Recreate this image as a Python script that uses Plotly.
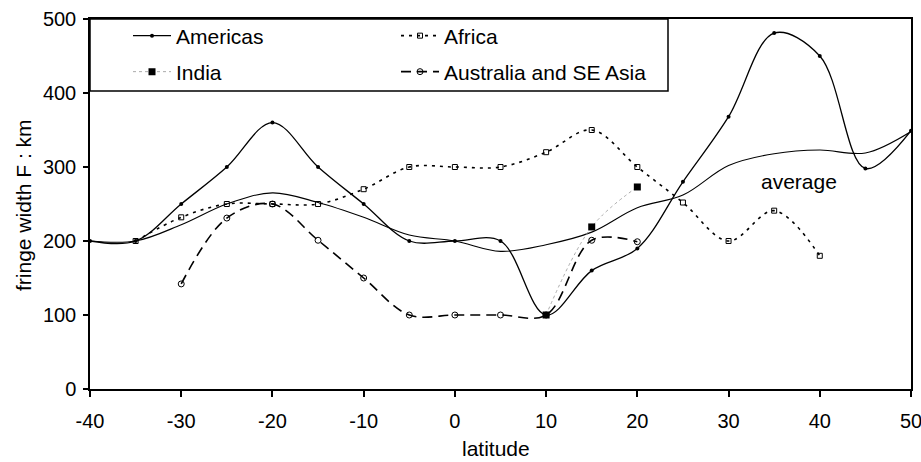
import plotly.graph_objects as go

# ---- data ----
lat_americas = [-40, -35, -30, -25, -20, -15, -10, -5, 0, 5, 10, 15, 20, 25, 30, 35, 40, 45, 50]
americas = [200, 200, 250, 300, 360, 300, 250, 200, 200, 200, 100, 160, 190, 280, 368, 481, 450, 298, 349]

lat_africa = [-35, -30, -25, -20, -15, -10, -5, 0, 5, 10, 15, 20, 25, 30, 35, 40]
africa = [200, 232, 250, 250, 250, 270, 300, 300, 300, 320, 350, 300, 252, 200, 241, 180]

lat_india = [10, 15, 20]
india = [100, 219, 273]

lat_aus = [-30, -25, -20, -15, -10, -5, 0, 5, 10, 15, 20]
aus = [142, 231, 250, 201, 150, 100, 100, 100, 100, 201, 199]

lat_avg = [-40, -35, -30, -25, -20, -15, -10, -5, 0, 5, 10, 15, 20, 25, 30, 35, 40, 45, 50]
average = [200, 200, 222, 250, 265, 252, 232, 208, 200, 186, 195, 212, 245, 262, 302, 318, 323, 319, 348]

x_ticks = [-40, -30, -20, -10, 0, 10, 20, 30, 40, 50]
x_labels = ["-40", "-30", "-20", "-10", "0", "10", "20", "30", "40", "50"]
y_ticks = [0, 100, 200, 300, 400, 500]

FONT = "Liberation Sans, Arial, sans-serif"
FS = 21
TFS = 20

fig = go.Figure()

fig.add_trace(go.Scatter(
    x=lat_avg, y=average, mode="lines", name="average", showlegend=False,
    line=dict(color="black", width=1.1, shape="spline"),
))
fig.add_trace(go.Scatter(
    x=lat_africa, y=africa, mode="lines+markers", name="Africa", legend="legend2",
    line=dict(color="black", width=1.6, dash="3px,5px", shape="spline"),
    marker=dict(symbol="square-open", size=5, color="black", line=dict(width=1)),
))
fig.add_trace(go.Scatter(
    x=lat_india, y=india, mode="lines+markers", name="India", legend="legend3",
    line=dict(color="#aaaaaa", width=1, dash="dot", shape="spline"),
    marker=dict(symbol="square", size=7, color="black"),
))
fig.add_trace(go.Scatter(
    x=lat_aus, y=aus, mode="lines+markers", name="Australia and SE Asia", legend="legend4",
    line=dict(color="black", width=1.6, dash="10px,6px", shape="spline"),
    marker=dict(symbol="circle-open", size=6, color="black", line=dict(width=1)),
))
fig.add_trace(go.Scatter(
    x=lat_americas, y=americas, mode="lines+markers", name="Americas", legend="legend",
    line=dict(color="black", width=1.3, shape="spline"),
    marker=dict(symbol="circle", size=4, color="black"),
))

W, H = 921, 462
L, R, T, B = 90, 10, 19, 73
pw, ph = W - L - R, H - T - B

def px_x(p):
    return (p - L) / pw

def px_y(p):
    return (H - B - p) / ph

leg_common = dict(bgcolor="rgba(0,0,0,0)", borderwidth=0, font=dict(family=FONT, size=FS, color="black"),
                  xanchor="left", yanchor="middle", itemwidth=38, orientation="v")

fig.update_layout(
    width=W, height=H,
    margin=dict(l=L, r=R, t=T, b=B),
    paper_bgcolor="white", plot_bgcolor="white",
    font=dict(family=FONT, size=FS, color="black"),
    legend=dict(x=px_x(128), y=px_y(36), **leg_common),
    legend2=dict(x=px_x(396), y=px_y(36), **leg_common),
    legend3=dict(x=px_x(128), y=px_y(72), **leg_common),
    legend4=dict(x=px_x(396), y=px_y(72), **leg_common),
    xaxis=dict(range=[-40, 50], tickvals=x_ticks, ticktext=x_labels, ticks="outside", ticklen=6,
               tickwidth=1.5, tickcolor="black", showline=True, linecolor="black", linewidth=1.5,
               mirror=True, showgrid=False, zeroline=False, ticklabelstandoff=7, automargin=False,
               ticklabeloverflow="allow",
               tickfont=dict(family=FONT, size=TFS, color="black")),
    yaxis=dict(range=[0, 500], tickvals=y_ticks, ticks="outside", ticklen=5, tickwidth=1.5,
               tickcolor="black", showline=True, linecolor="black", linewidth=1.5, mirror=True,
               showgrid=False, zeroline=False, ticklabelstandoff=3, automargin=False,
               ticklabeloverflow="allow",
               tickfont=dict(family=FONT, size=TFS, color="black")),
    shapes=[dict(type="rect", xref="paper", yref="paper", x0=0, x1=px_x(668), y0=px_y(91), y1=1,
                 line=dict(color="black", width=1.5), fillcolor="rgba(0,0,0,0)")],
    annotations=[
        dict(text="average", x=37.7, y=280, xref="x", yref="y", showarrow=False,
             font=dict(family=FONT, size=FS, color="black")),
        dict(text="latitude", x=px_x(496), y=-(448 - (H - B)) / ph, xref="paper", yref="paper",
             showarrow=False, yanchor="middle", font=dict(family=FONT, size=FS, color="black")),
        dict(text="fringe width F : km", x=-(L - 23) / pw, y=px_y(205), xref="paper", yref="paper",
             showarrow=False, textangle=-90, xanchor="center", yanchor="middle",
             font=dict(family=FONT, size=FS, color="black")),
    ],
)

fig.write_html("out.html")
